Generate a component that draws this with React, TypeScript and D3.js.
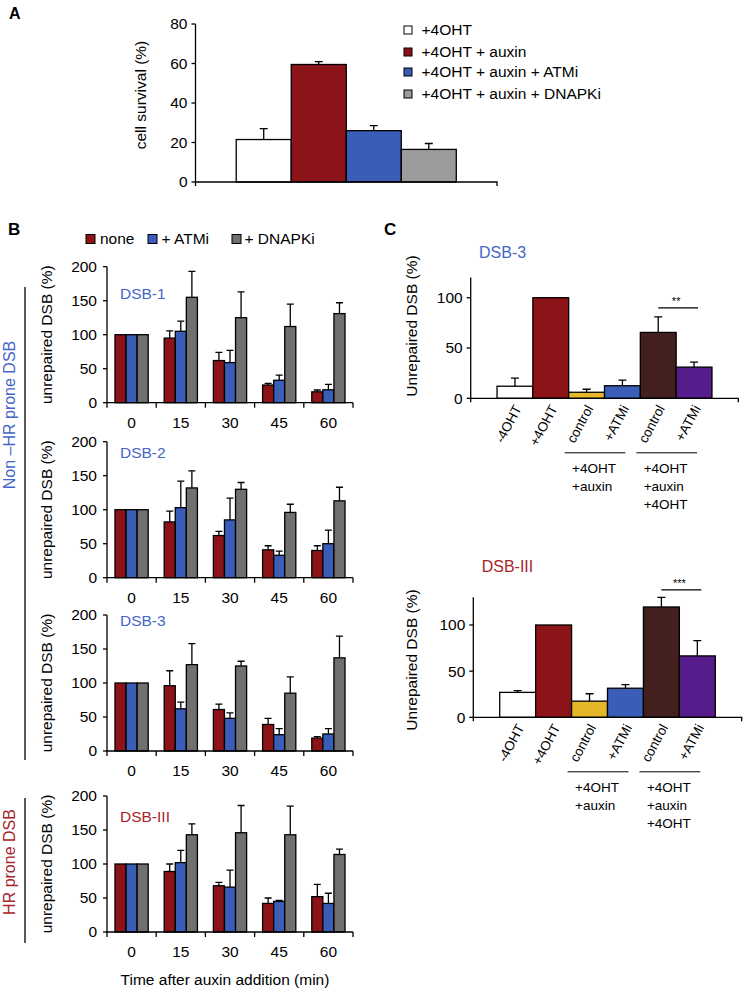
import React from "react";
import * as d3 from "d3";

const FONT = "'Liberation Sans', Arial, Helvetica, sans-serif";

// ---- panel A: cell survival
const survivalGroups = ["+4OHT", "+4OHT + auxin", "+4OHT + auxin + ATMi", "+4OHT + auxin + DNAPKi"];
const survivalMean = [21.5, 59.5, 26, 16.5];
const survivalErr = [5.5, 1.5, 2.5, 3];
const survivalTicks = [0, 20, 40, 60, 80];

// ---- panel B: time course of unrepaired DSB
const timePoints = ["0", "15", "30", "45", "60"];
const treatments = ["none", "+ ATMi", "+ DNAPKi"];
const bTicks = [0, 50, 100, 150, 200];

const dsb1None = [100, 95, 62, 26, 16];
const dsb1NoneErr = [0, 10.5, 12, 2.5, 2.7];
const dsb1Atmi = [100, 105, 59, 33, 19];
const dsb1AtmiErr = [0, 15, 18, 7.5, 8];
const dsb1Dnapki = [100, 155, 125, 112, 131];
const dsb1DnapkiErr = [0, 38, 38, 33, 16];

const dsb2None = [100, 82, 62, 41, 40];
const dsb2NoneErr = [0, 16, 6, 6, 7];
const dsb2Atmi = [100, 103, 85, 33, 50];
const dsb2AtmiErr = [0, 39, 32, 6, 20];
const dsb2Dnapki = [100, 132, 130, 96, 113];
const dsb2DnapkiErr = [0, 25, 10, 12, 20];

const dsb3None = [100, 96, 61, 39, 19];
const dsb3NoneErr = [0, 22, 8, 9, 2];
const dsb3Atmi = [100, 62, 48, 24, 25];
const dsb3AtmiErr = [0, 10, 8, 9, 8];
const dsb3Dnapki = [100, 127, 125, 85, 137];
const dsb3DnapkiErr = [0, 31, 7, 24, 32];

const dsbIIINone = [100, 89, 68, 42, 52];
const dsbIIINoneErr = [0, 11, 5, 8, 18];
const dsbIIIAtmi = [100, 102, 66, 45, 42];
const dsbIIIAtmiErr = [0, 18, 25, 1.5, 15];
const dsbIIIDnapki = [100, 143, 146, 143, 114];
const dsbIIIDnapkiErr = [0, 16, 40, 42, 8];

// ---- panel C: ATMi effect
const cCategories = ["-4OHT", "+4OHT", "control", "+ATMi", "control ", "+ATMi "];
const cTicks = [0, 50, 100];
const cDsb3Mean = [12, 100, 6, 12.5, 65.5, 31];
const cDsb3Err = [8, 0, 3, 5.5, 15.5, 5];
const cDsbIIIMean = [27, 100, 17.5, 31.5, 119.5, 66.5];
const cDsbIIIErr = [2, 0, 8, 4, 10.5, 16.5];
const cGroup1 = ["+4OHT", "+auxin"];
const cGroup2 = ["+4OHT", "+auxin", "+4OHT"];

// colours
const RED = "#8c1418";
const BLUE = "#3a5db8";
const TXT_BLUE = "#4566c6";
const TXT_RED = "#a8242a";
const aColors = ["#ffffff", RED, BLUE, "#9b9b9b"];
const bColors = [RED, BLUE, "#707070"];
const cColors = ["#ffffff", RED, "#e4b72a", BLUE, "#43201e", "#561c8c"];

const SW = 1.3;

function ErrBar({ x, y0, y1, cap }) {
  return (
    <path
      d={`M${x},${y0}V${y1}M${x - cap},${y1}H${x + cap}`}
      stroke="#000"
      strokeWidth={SW}
      fill="none"
    />
  );
}

function PanelA() {
  const ax = 195.5;
  const axEnd = 497;
  const x = d3.scaleBand().domain(survivalGroups).range([ax, axEnd]).paddingInner(0).paddingOuter(0.74);
  const y = d3.scaleLinear().domain([0, 80]).range([182, 24]);
  const legendY = [30, 52, 72, 94];
  return (
    <g fontFamily={FONT}>
      <text x={9} y={19} fontSize={16} fontWeight="bold">A</text>
      <text transform="translate(141,95) rotate(-90)" dy="0.35em" textAnchor="middle" fontSize={15.5}>
        cell survival (%)
      </text>
      {survivalGroups.map((g, i) => (
        <g key={g}>
          <rect x={x(g)} y={y(survivalMean[i])} width={x.bandwidth()} height={y(0) - y(survivalMean[i])}
            fill={aColors[i]} stroke="#000" strokeWidth={SW} />
          <ErrBar x={x(g) + x.bandwidth() / 2} y0={y(survivalMean[i])} y1={y(survivalMean[i] + survivalErr[i])} cap={4} />
        </g>
      ))}
      <path d={`M${ax},${y(80)}V${y(0) + 4}M${ax},${y(0)}H${axEnd}V${y(0) + 4}`} stroke="#000" strokeWidth={SW} fill="none" />
      {survivalTicks.map((t) => (
        <g key={t}>
          <line x1={ax - 4} x2={ax} y1={y(t)} y2={y(t)} stroke="#000" strokeWidth={SW} />
          <text x={ax - 8} y={y(t)} dy="0.35em" textAnchor="end" fontSize={15.5}>{t}</text>
        </g>
      ))}
      {survivalGroups.map((g, i) => (
        <g key={"l" + g}>
          <rect x={404} y={legendY[i] - 4} width={8} height={8} fill={aColors[i]} stroke="#000" strokeWidth={1} />
          <text x={421.5} y={legendY[i]} dy="0.35em" fontSize={15.5}>{g}</text>
        </g>
      ))}
    </g>
  );
}

function TimeCourse({ top, title, titleColor, titleY, series }) {
  const h = 136;
  const x = d3.scaleBand().domain(timePoints).range([107, 353]);
  const inner = d3.scaleBand().domain(treatments).range([0, x.bandwidth()]).paddingOuter(0.72);
  const y = d3.scaleLinear().domain([0, 200]).range([top + h, top]);
  const base = y(0);
  return (
    <g fontFamily={FONT}>
      <text transform={`translate(47,${top + h / 2}) rotate(-90)`} dy="0.35em" textAnchor="middle" fontSize={15.5}>
        unrepaired DSB (%)
      </text>
      <text x={120} y={titleY} fontSize={15.5} fill={titleColor}>{title}</text>
      {series.map((s, si) =>
        timePoints.map((t, ti) => {
          const bx = x(t) + inner(treatments[si]);
          const v = s.mean[ti];
          return (
            <g key={si + "-" + ti}>
              <rect x={bx} y={y(v)} width={inner.bandwidth()} height={base - y(v)}
                fill={bColors[si]} stroke="#000" strokeWidth={SW} />
              {s.err[ti] > 0 && (
                <ErrBar x={bx + inner.bandwidth() / 2} y0={y(v)} y1={y(v + s.err[ti])} cap={3.5} />
              )}
            </g>
          );
        })
      )}
      <path d={`M107,${y(200)}V${base}H353`} stroke="#000" strokeWidth={SW} fill="none" />
      {bTicks.map((t) => (
        <g key={t}>
          <line x1={103} x2={107} y1={y(t)} y2={y(t)} stroke="#000" strokeWidth={SW} />
          <text x={97} y={y(t)} dy="0.35em" textAnchor="end" fontSize={15.5}>{t}</text>
        </g>
      ))}
      {timePoints.map((t) => (
        <text key={t} x={x(t) + x.bandwidth() / 2} y={base + 25} textAnchor="middle" fontSize={15.5}>{t}</text>
      ))}
      {[...timePoints.map((t) => x(t)), 353].map((v, i) => (
        <line key={i} x1={v} x2={v} y1={base} y2={base + 5} stroke="#000" strokeWidth={SW} />
      ))}
    </g>
  );
}

function PanelB() {
  const panels = [
    { title: "DSB-1", color: TXT_BLUE, top: 266.7, titleY: 299,
      series: [{ mean: dsb1None, err: dsb1NoneErr }, { mean: dsb1Atmi, err: dsb1AtmiErr }, { mean: dsb1Dnapki, err: dsb1DnapkiErr }] },
    { title: "DSB-2", color: TXT_BLUE, top: 441.7, titleY: 458,
      series: [{ mean: dsb2None, err: dsb2NoneErr }, { mean: dsb2Atmi, err: dsb2AtmiErr }, { mean: dsb2Dnapki, err: dsb2DnapkiErr }] },
    { title: "DSB-3", color: TXT_BLUE, top: 615, titleY: 626,
      series: [{ mean: dsb3None, err: dsb3NoneErr }, { mean: dsb3Atmi, err: dsb3AtmiErr }, { mean: dsb3Dnapki, err: dsb3DnapkiErr }] },
    { title: "DSB-III", color: TXT_RED, top: 796, titleY: 822,
      series: [{ mean: dsbIIINone, err: dsbIIINoneErr }, { mean: dsbIIIAtmi, err: dsbIIIAtmiErr }, { mean: dsbIIIDnapki, err: dsbIIIDnapkiErr }] },
  ];
  const legX = [86, 148, 232];
  const legTextX = [100, 161.5, 244.5];
  return (
    <g fontFamily={FONT}>
      <text x={8} y={235} fontSize={17} fontWeight="bold">B</text>
      {treatments.map((t, i) => (
        <g key={t}>
          <rect x={legX[i]} y={234.5} width={9} height={9} fill={bColors[i]} stroke="#000" strokeWidth={1} />
          <text x={legTextX[i]} y={244} fontSize={15.5}>{t}</text>
        </g>
      ))}
      <line x1={25} x2={25} y1={287} y2={760} stroke="#000" strokeWidth={1.3} />
      <text transform="translate(9,415) rotate(-90)" dy="0.35em" textAnchor="middle" fontSize={16} fill={TXT_BLUE}>
        Non –HR prone DSB
      </text>
      <line x1={25} x2={25} y1={798} y2={943} stroke="#000" strokeWidth={1.3} />
      <text transform="translate(9,862) rotate(-90)" dy="0.35em" textAnchor="middle" fontSize={16} fill={TXT_RED}>
        HR prone DSB
      </text>
      {panels.map((p) => (
        <TimeCourse key={p.title} top={p.top} title={p.title} titleColor={p.color} titleY={p.titleY} series={p.series} />
      ))}
      <text x={225} y={985} textAnchor="middle" fontSize={15.5}>Time after auxin addition (min)</text>
    </g>
  );
}

function Knockdown({ x0, x1, axisY, top, yMax, mean, err, title, titleColor, titleX, titleY, labelY, sigV, stars }) {
  const x = d3.scaleBand().domain(cCategories).range([x0, x1]).paddingInner(0).paddingOuter(0.735);
  const y = d3.scaleLinear().domain([0, yMax]).range([axisY, top]);
  const bw = x.bandwidth();
  const groups = [
    { from: cCategories[2], to: cCategories[3], lines: cGroup1 },
    { from: cCategories[4], to: cCategories[5], lines: cGroup2 },
  ];
  const sy = y(sigV);
  return (
    <g fontFamily={FONT}>
      <text x={titleX} y={titleY} fontSize={16} fill={titleColor}>{title}</text>
      <text transform={`translate(412,${labelY}) rotate(-90)`} dy="0.35em" textAnchor="middle" fontSize={15.5}>
        Unrepaired DSB (%)
      </text>
      {cCategories.map((c, i) => (
        <g key={c}>
          <rect x={x(c)} y={y(mean[i])} width={bw} height={axisY - y(mean[i])}
            fill={cColors[i]} stroke="#000" strokeWidth={SW} />
          {err[i] > 0 && <ErrBar x={x(c) + bw / 2} y0={y(mean[i])} y1={y(mean[i] + err[i])} cap={4} />}
          <text transform={`translate(${x(c) + bw / 2 + 7},${axisY + 10}) rotate(-62)`} textAnchor="end" fontSize={13.5}>
            {c.trim()}
          </text>
        </g>
      ))}
      <path d={`M${x0},${top}V${axisY + 4}M${x0},${axisY}H${x1}V${axisY + 4}`} stroke="#000" strokeWidth={SW} fill="none" />
      {cTicks.map((t) => (
        <g key={t}>
          <line x1={x0 - 4} x2={x0} y1={y(t)} y2={y(t)} stroke="#000" strokeWidth={SW} />
          <text x={x0 - 8} y={y(t)} dy="0.35em" textAnchor="end" fontSize={15.5}>{t}</text>
        </g>
      ))}
      {groups.map((g, gi) => {
        const lx0 = x(g.from) - 4;
        const lx1 = x(g.to) + bw / 2 + 3;
        const cx = (lx0 + lx1) / 2;
        return (
          <g key={gi}>
            <line x1={lx0} x2={lx1} y1={axisY + 54.5} y2={axisY + 54.5} stroke="#000" strokeWidth={1} />
            {g.lines.map((l, li) => (
              <text key={li} x={cx - 23} y={axisY + 75 + li * 18} fontSize={13.5}>{l}</text>
            ))}
          </g>
        );
      })}
      <line x1={x(cCategories[4]) + bw / 2} x2={x(cCategories[5]) + bw / 2 + 4} y1={sy} y2={sy} stroke="#000" strokeWidth={1.2} />
      <text x={x(cCategories[5])} y={sy - 3} textAnchor="middle" fontSize={11}>{stars}</text>
    </g>
  );
}

function PanelC() {
  return (
    <g fontFamily={FONT}>
      <text x={384} y={235} fontSize={17} fontWeight="bold">C</text>
      <Knockdown x0={470.7} x1={738.3} axisY={398.3} top={277.6} yMax={120} mean={cDsb3Mean} err={cDsb3Err}
        title="DSB-3" titleColor={TXT_BLUE} titleX={479} titleY={258} labelY={326} sigV={90} stars="**" />
      <Knockdown x0={473.3} x1={741.7} axisY={717.3} top={597.3} yMax={130} mean={cDsbIIIMean} err={cDsbIIIErr}
        title="DSB-III" titleColor={TXT_RED} titleX={481.7} titleY={572} labelY={660} sigV={138} stars="***" />
    </g>
  );
}

export default function App() {
  return (
    <svg width={744} height={991} style={{ position: "absolute", left: 0, top: 0, background: "#fff" }}>
      <PanelA />
      <PanelB />
      <PanelC />
    </svg>
  );
}
